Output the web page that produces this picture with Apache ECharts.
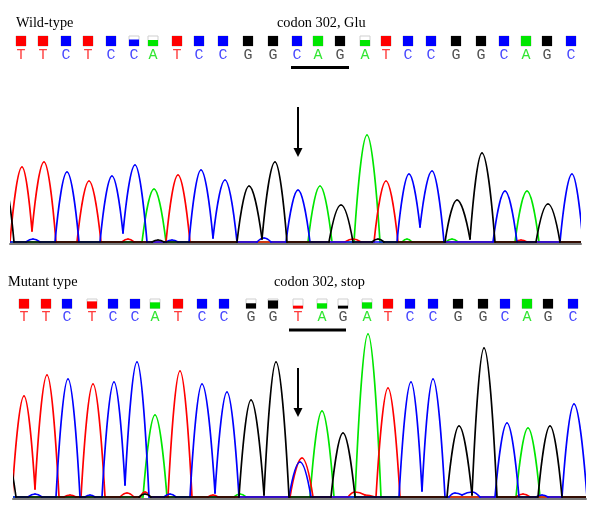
<!DOCTYPE html>
<html>
<head>
<meta charset="utf-8">
<title>chromatogram</title>
<style>
  html, body { margin: 0; background: #fff; }
  #main { width: 600px; height: 520px; }
</style>
<script src="https://cdn.jsdelivr.net/npm/echarts@6/dist/echarts.min.js"></script>
</head>
<body>
<div id="main"></div>
<script>
// ---- wild-type trace vertices [scan position, signal] ----
const wtA = [[0, 0], [142, 0], [154, 53], [166, 0], [308, 0], [320, 56], [332, 0], [354, 0], [367, 107], [380, 0],
  [402, 0], [407, 3], [412, 0], [446, 0], [452, 3], [458, 0], [515, 0], [527, 51], [539, 0], [600, 0]];
const wtC = [[0, 0], [26, 0], [33, 3], [40, 0], [55, 0], [67, 70], [79, 0], [100, 0], [112, 66], [123, 9], [135, 77], [147, 0],
  [166, 0], [172, 2], [178, 0], [189, 0], [201, 72], [213, 4], [225, 62], [237, 0], [257, 0], [264, 4], [271, 0],
  [286, 0], [298, 52], [310, 0], [397, 0], [409, 68], [420, 15], [432, 71], [444, 0], [493, 0], [505, 51], [517, 0],
  [560, 0], [572, 68], [583, 0], [600, 0]];
const wtG = [[4, 60], [14, 0], [152, 0], [158, 2], [164, 0], [237, 0], [249, 56], [262, 3], [275, 80], [287, 0],
  [329, 0], [341, 37], [353, 0], [372, 0], [378, 3], [384, 0], [445, 0], [457, 42], [470, 3], [482, 89], [495, 0],
  [536, 0], [548, 38], [560, 0], [600, 0]];
const wtT = [[0, 0], [10, 0], [22, 75], [32, 11], [44, 80], [56, 0], [77, 0], [89, 61], [101, 0], [122, 0], [128, 3], [134, 0],
  [166, 0], [178, 67], [190, 0], [345, 0], [353, 3], [361, 0], [374, 0], [386, 61], [398, 0], [515, 0], [521, 2], [527, 0], [600, 0]];

// ---- mutant trace vertices ----
const mtA = [[0, 0], [143, 0], [155, 82], [167, 0], [234, 0], [240, 3], [246, 0], [310, 0], [322, 86], [334, 0],
  [355, 0], [368, 163], [381, 0], [516, 0], [528, 69], [540, 0], [600, 0]];
const mtC = [[0, 0], [28, 0], [35, 3], [42, 0], [56, 0], [68, 118], [80, 0], [85, 0], [90, 2], [95, 0],
  [102, 0], [114, 115], [125, 12], [137, 135], [149, 0], [164, 0], [170, 3], [176, 0],
  [190, 0], [202, 113], [215, 4], [227, 105], [239, 0], [289, 0], [300, 35], [311, 0],
  [399, 0], [411, 115], [422, 6], [433, 118], [445, 0], [449, 0], [455, 4], [462, 2], [472, 5], [480, 0],
  [495, 0], [507, 74], [519, 0], [536, 0], [542, 2], [548, 0], [562, 0], [574, 93], [587, 0], [600, 0]];
const mtG = [[1, 60], [16, 0], [139, 0], [145, 3], [151, 0], [239, 0], [251, 97], [264, 2], [276, 135], [289, 0],
  [331, 0], [343, 64], [355, 0], [447, 0], [459, 71], [472, 2], [484, 149], [497, 0], [538, 0], [550, 71], [562, 0], [600, 0]];
const mtT = [[0, 0], [12, 0], [24, 101], [35, 8], [47, 122], [59, 0], [64, 0], [70, 2], [76, 0], [81, 0], [93, 113], [105, 0],
  [120, 0], [127, 4], [134, 0], [140, 0], [145, 5], [150, 0], [168, 0], [180, 126], [192, 0], [208, 0], [213, 2], [218, 0],
  [290, 0], [302, 39], [313, 0], [348, 0], [355, 5], [365, 2], [375, 0], [376, 0], [388, 109], [400, 0],
  [516, 0], [523, 3], [530, 0], [600, 0]];

// ---- base calls: position, letter, quality ----
const wtCallPos = [21, 43, 66, 88, 111, 134, 153, 177, 199, 223, 248, 273, 297, 318, 340, 365, 386, 408, 431, 456, 481, 504, 526, 547, 571];
const wtBases = 'TTCTCCATCCGGCAGATCCGGCAGC';
const wtQual = [1, 1, 1, 1, 1, 0.65, 0.6, 1, 1, 1, 1, 1, 1, 1, 1, 0.6, 1, 1, 1, 1, 1, 1, 1, 1, 1];

const mtCallPos = [24, 46, 67, 92, 113, 135, 155, 178, 202, 224, 251, 273, 298, 322, 343, 367, 388, 410, 433, 458, 483, 505, 527, 548, 573];
const mtBases = 'TTCTCCATCCGGTAGATCCGGCAGC';
const mtQual = [1, 1, 1, 0.75, 1, 1, 0.65, 1, 1, 1, 0.55, 0.85, 0.3, 0.55, 0.3, 0.65, 1, 1, 1, 1, 1, 1, 1, 1, 1];

// codon 302 span and arrow at the mutated base
const wtCodon = [[291, 349]];
const mtCodon = [[289, 346]];
const wtArrow = [[298, 135, 85]];
const mtArrow = [[298, 129, 80]];

const traceColor = { A: '#00e600', C: '#0000ff', G: '#000000', T: '#ff0000' };
const letterColor = { A: '#33e633', C: '#4646ff', G: '#505050', T: '#ff3c3c' };
const serif = '"Liberation Serif", "Times New Roman", serif';

let chart = echarts.init(document.getElementById('main'));

// one bezier piece per pair of neighbouring vertices; flat at the top, steep at the foot
function traceRenderer (data, color) {
  return function (params, api) {
    const i = params.dataIndex;
    if (i >= data.length - 1) return null;
    const p = api.coord([api.value(0), api.value(1)]);
    const q = api.coord(data[i + 1]);
    if (Math.abs(p[1] - q[1]) < 0.01) {
      return { type: 'line', shape: { x1: p[0], y1: p[1], x2: q[0], y2: q[1] }, style: { stroke: color, lineWidth: 1.7, lineCap: 'round' } };
    }
    const lo = p[1] > q[1] ? p : q; // lower on screen = larger pixel y
    const hi = p[1] > q[1] ? q : p;
    const dx = hi[0] - lo[0];
    const dy = hi[1] - lo[1];
    const cLo = [lo[0] + dx * 0.3, lo[1] + dy * 0.55];
    const cHi = [hi[0] - dx * 0.32, hi[1]];
    const c1 = lo === p ? cLo : cHi;
    const c2 = lo === p ? cHi : cLo;
    return {
      type: 'bezierCurve',
      shape: { x1: p[0], y1: p[1], x2: q[0], y2: q[1], cpx1: c1[0], cpy1: c1[1], cpx2: c2[0], cpy2: c2[1] },
      style: { stroke: color, lineWidth: 1.7, fill: null, lineCap: 'round' },
    };
  };
}

function trace (data, base, idx) {
  return {
    type: 'custom',
    xAxisIndex: idx,
    yAxisIndex: idx,
    data: data,
    encode: { x: 0, y: 1 },
    clip: true,
    silent: true,
    renderItem: traceRenderer(data, traceColor[base]),
  };
}

function callRenderer (bases) {
  return function (params, api) {
    const b = bases[params.dataIndex];
    const bot = api.coord([api.value(0), 0]);
    const top = api.coord([api.value(0), 1]);
    const h = bot[1] - top[1];
    const q = api.value(1);
    const w = 10;
    return {
      type: 'group',
      children: [
        { type: 'rect', shape: { x: bot[0] - w / 2, y: top[1], width: w, height: h }, style: { fill: '#fff', stroke: '#cfcfcf', lineWidth: 1 } },
        { type: 'rect', shape: { x: bot[0] - w / 2, y: bot[1] - h * q, width: w, height: h * q }, style: { fill: traceColor[b] } },
        { type: 'text', style: { text: b, x: bot[0], y: bot[1] + 9, align: 'center', verticalAlign: 'middle', font: '15px "Liberation Mono", monospace', fill: letterColor[b] } },
      ],
    };
  };
}

function codonRenderer (params, api) {
  const a = api.coord([api.value(0), 0]);
  const b = api.coord([api.value(1), 0]);
  return { type: 'rect', shape: { x: a[0], y: a[1] + 20, width: b[0] - a[0], height: 3 }, style: { fill: '#000' } };
}

function arrowRenderer (params, api) {
  const s = api.coord([api.value(0), api.value(1)]);
  const e = api.coord([api.value(0), api.value(2)]);
  return {
    type: 'group',
    children: [
      { type: 'line', shape: { x1: s[0], y1: s[1], x2: e[0], y2: e[1] - 8 }, style: { stroke: '#000', lineWidth: 2 } },
      { type: 'polygon', shape: { points: [[e[0] - 4.5, e[1] - 9], [e[0] + 4.5, e[1] - 9], [e[0], e[1]]] }, style: { fill: '#000' } },
    ],
  };
}

const hiddenX = (min, max, idx) => ({ type: 'value', gridIndex: idx, min: min, max: max, show: false });
const titleStyle = { fontFamily: serif, fontSize: 14.3, fontWeight: 'normal', color: '#000' };

let option = {
  animation: false,
  title: [
    { text: 'Wild-type', left: 16, top: 16, padding: 0, textStyle: titleStyle },
    { text: 'codon 302, Glu', left: 277, top: 16, padding: 0, textStyle: titleStyle },
    { text: 'Mutant type', left: 8, top: 275, padding: 0, textStyle: titleStyle },
    { text: 'codon 302, stop', left: 274, top: 275, padding: 0, textStyle: titleStyle },
  ],
  grid: [
    { left: 10, top: 131.5, width: 571, height: 112 }, // wild-type trace
    { left: 13, top: 331.5, width: 573, height: 167 }, // mutant trace
    { left: 10, top: 36, width: 571, height: 10 }, // wild-type calls
    { left: 13, top: 299, width: 573, height: 9.5 }, // mutant calls
  ],
  xAxis: [
    {
      type: 'value', gridIndex: 0, min: 10, max: 581,
      axisLine: { onZero: false, lineStyle: { color: '#7a7a7a', width: 2 } },
      axisTick: { show: false }, axisLabel: { show: false }, splitLine: { show: false },
    },
    {
      type: 'value', gridIndex: 1, min: 13, max: 586,
      axisLine: { onZero: false, lineStyle: { color: '#7a7a7a', width: 2 } },
      axisTick: { show: false }, axisLabel: { show: false }, splitLine: { show: false },
    },
    hiddenX(10, 581, 2),
    hiddenX(13, 586, 3),
  ],
  yAxis: [
    { type: 'value', gridIndex: 0, min: -1.5, max: 110.5, show: false },
    { type: 'value', gridIndex: 1, min: -1.5, max: 165.5, show: false },
    { type: 'value', gridIndex: 2, min: 0, max: 1, show: false },
    { type: 'value', gridIndex: 3, min: 0, max: 1, show: false },
  ],
  series: [
    trace(wtA, 'A', 0), trace(wtT, 'T', 0), trace(wtC, 'C', 0), trace(wtG, 'G', 0),
    trace(mtA, 'A', 1), trace(mtT, 'T', 1), trace(mtC, 'C', 1), trace(mtG, 'G', 1),
    {
      type: 'custom', xAxisIndex: 2, yAxisIndex: 2, silent: true,
      data: wtCallPos.map((p, i) => [p, wtQual[i]]),
      renderItem: callRenderer(wtBases),
    },
    {
      type: 'custom', xAxisIndex: 3, yAxisIndex: 3, silent: true,
      data: mtCallPos.map((p, i) => [p, mtQual[i]]),
      renderItem: callRenderer(mtBases),
    },
    { type: 'custom', xAxisIndex: 2, yAxisIndex: 2, silent: true, encode: { x: [0, 1] }, data: wtCodon, renderItem: codonRenderer },
    { type: 'custom', xAxisIndex: 3, yAxisIndex: 3, silent: true, encode: { x: [0, 1] }, data: mtCodon, renderItem: codonRenderer },
    { type: 'custom', xAxisIndex: 0, yAxisIndex: 0, silent: true, clip: false, encode: { x: 0, y: [1, 2] }, data: wtArrow, renderItem: arrowRenderer },
    { type: 'custom', xAxisIndex: 1, yAxisIndex: 1, silent: true, clip: false, encode: { x: 0, y: [1, 2] }, data: mtArrow, renderItem: arrowRenderer },
  ],
};

chart.setOption(option);
</script>
</body>
</html>
